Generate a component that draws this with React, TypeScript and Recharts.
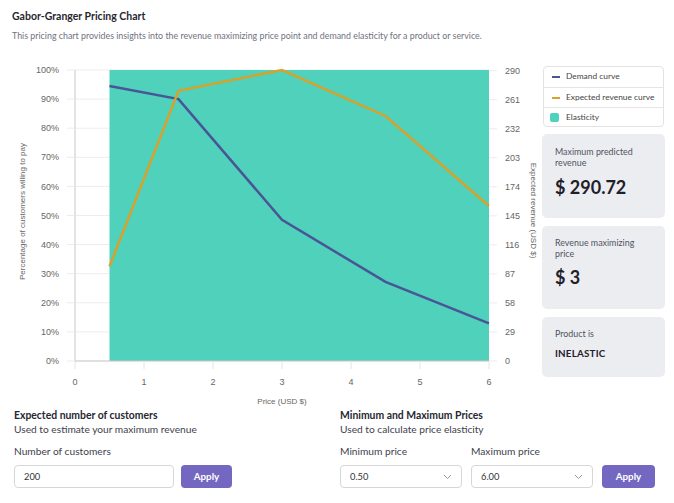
import React from 'react';
import { ComposedChart, Line, Area, XAxis, YAxis, CartesianGrid } from 'recharts';

// price points tested (USD)
const prices = [0.5, 1.5, 3, 4.5, 6];
// share of customers willing to pay, in %
const demandPct = [94.5, 90.0, 48.5, 27.2, 12.9];
// expected revenue at each price (USD)
const revenue = [94.5, 270.0, 290.72, 244.8, 154.8];
// elasticity band spans the tested price range
const elasticityBand = [100, 100, 100, 100, 100];

const priceTicks = [0, 1, 2, 3, 4, 5, 6];
const percentTicks = [0, 10, 20, 30, 40, 50, 60, 70, 80, 90, 100];
const revenueTicks = [0, 29, 58, 87, 116, 145, 174, 203, 232, 261, 290];

const data = prices.map((p, i) => ({
  price: p,
  demand: demandPct[i],
  revenue: revenue[i],
  band: elasticityBand[i],
}));

const GREEN = '#4fd1bb';
const NAVY = '#4a5596';
const GOLD = '#d6a22c';
const PURPLE = '#7467c2';
const UI_FONT = 'Lato, "Noto Sans", sans-serif';
const TICK_FONT = '"Liberation Sans", Arial, sans-serif';

const tickStyle = { fontSize: 9, fill: '#666', fontFamily: TICK_FONT };
const titleStyle = { fontSize: 8, fill: '#666', fontFamily: TICK_FONT };

const LeftTitle = (props: any) => {
  const { x, y, height } = props.viewBox;
  const cx = x + 22;
  const cy = y + height / 2 - 4;
  return (
    <text x={cx} y={cy} transform={`rotate(-90 ${cx} ${cy})`} textAnchor="middle" dominantBaseline="central" style={titleStyle}>
      Percentage of customers willing to pay
    </text>
  );
};

const RightTitle = (props: any) => {
  const { x, y, height } = props.viewBox;
  const cx = x + 44;
  const cy = y + height / 2 - 5;
  return (
    <text x={cx} y={cy} transform={`rotate(90 ${cx} ${cy})`} textAnchor="middle" dominantBaseline="central" style={titleStyle}>
      Expected revenue (USD $)
    </text>
  );
};

const BottomTitle = (props: any) => {
  const { x, y, width } = props.viewBox;
  return (
    <text x={x + width / 2} y={y + 40} textAnchor="middle" dominantBaseline="central" style={titleStyle}>
      Price (USD $)
    </text>
  );
};

const card: React.CSSProperties = {
  position: 'absolute',
  left: 542,
  width: 123,
  background: '#ecedf1',
  borderRadius: 5,
  boxSizing: 'border-box',
  padding: '0 13px',
};

const smallGray: React.CSSProperties = { fontSize: 8.9, color: '#50535f', lineHeight: '11px' };
const subText: React.CSSProperties = { position: 'absolute', fontSize: 10.2, color: '#40424d' };
const headText: React.CSSProperties = { position: 'absolute', fontSize: 10.4, fontWeight: 700 };

const SelectBox = ({ left, value }: { left: number; value: string }) => (
  <div style={{
    position: 'absolute', left, top: 465, width: 122, height: 23, border: '1px solid #d6d6d9',
    borderRadius: 4, boxSizing: 'border-box', fontSize: 9.3, color: '#333', lineHeight: '21px', paddingLeft: 9,
  }}>
    {value}
    <svg width="9" height="6" style={{ position: 'absolute', right: 9, top: 8 }}>
      <polyline points="1,1 4.5,4.5 8,1" fill="none" stroke="#999" strokeWidth="1" />
    </svg>
  </div>
);

const ApplyButton = ({ left, width }: { left: number; width: number }) => (
  <div style={{
    position: 'absolute', left, top: 465, width, height: 23, background: PURPLE, borderRadius: 4,
    color: '#fff', fontWeight: 700, fontSize: 9.8, textAlign: 'center', lineHeight: '23px',
  }}>
    Apply
  </div>
);

export default function App() {
  return (
    <div style={{ position: 'absolute', left: 0, top: 0, width: 674, height: 503, background: '#fff', fontFamily: UI_FONT, color: '#262730', overflow: 'hidden' }}>
      <div style={{ position: 'absolute', left: 12, top: 10, fontSize: 10.5, fontWeight: 700 }}>Gabor-Granger Pricing Chart</div>
      <div style={{ position: 'absolute', left: 12, top: 30, fontSize: 8.85, color: '#6f7280', whiteSpace: 'nowrap' }}>
        This pricing chart provides insights into the revenue maximizing price point and demand elasticity for a product or service.
      </div>

      <div style={{ position: 'absolute', left: 0, top: 0 }}>
        <ComposedChart width={540} height={420} data={data} margin={{ top: 70, right: 0, bottom: 0, left: 0 }}>
          <CartesianGrid yAxisId="left" vertical={false} stroke="#ededed" />
          <XAxis
            dataKey="price"
            type="number"
            domain={[0, 6]}
            ticks={priceTicks}
            height={59}
            tickSize={8}
            tickMargin={10}
            tick={tickStyle}
            stroke="#c9c9c9"
            tickLine={{ stroke: '#e4e4e4' }}
            label={<BottomTitle />}
          />
          <YAxis
            yAxisId="left"
            width={75}
            domain={[0, 100]}
            ticks={percentTicks}
            tickFormatter={(v: number) => `${v}%`}
            tickSize={8}
            tickMargin={8}
            tick={tickStyle}
            stroke="#c9c9c9"
            tickLine={{ stroke: '#ececec' }}
            label={<LeftTitle />}
          />
          <YAxis
            yAxisId="right"
            orientation="right"
            width={51}
            domain={[0, 290.72]}
            ticks={revenueTicks}
            tickSize={8}
            tickMargin={8}
            tick={{ ...tickStyle, textAnchor: 'start' }}
            axisLine={false}
            tickLine={{ stroke: '#ececec' }}
            label={<RightTitle />}
          />
          <Area
            yAxisId="left"
            type="linear"
            dataKey="band"
            fill={GREEN}
            fillOpacity={1}
            stroke="none"
            activeDot={false}
            isAnimationActive={false}
          />
          <Line yAxisId="left" type="linear" dataKey="demand" stroke={NAVY} strokeWidth={2.5} dot={false} isAnimationActive={false} />
          <Line yAxisId="right" type="linear" dataKey="revenue" stroke={GOLD} strokeWidth={2.5} dot={false} isAnimationActive={false} />
        </ComposedChart>
      </div>

      {/* legend */}
      <div style={{ position: 'absolute', left: 543, top: 66, width: 121, height: 61, border: '1px solid #e3e3e6', borderRadius: 4, boxSizing: 'border-box', fontSize: 8.4, color: '#444' }}>
        {[
          { name: 'Demand curve', color: NAVY, kind: 'line' },
          { name: 'Expected revenue curve', color: GOLD, kind: 'line' },
          { name: 'Elasticity', color: GREEN, kind: 'box' },
        ].map((it, i) => (
          <div key={it.name} style={{ position: 'relative', height: 20, lineHeight: '19px', paddingLeft: 22, borderTop: i ? '1px solid #e6e6e9' : 'none', boxSizing: 'border-box' }}>
            {it.kind === 'line' ? (
              <span style={{ position: 'absolute', left: 8, top: 9, width: 8, height: 1.5, background: it.color }} />
            ) : (
              <span style={{ position: 'absolute', left: 6, top: 5, width: 9, height: 9, borderRadius: 2, background: it.color }} />
            )}
            {it.name}
          </div>
        ))}
      </div>

      {/* stat cards */}
      <div style={{ ...card, top: 134, height: 84, paddingTop: 12 }}>
        <div style={smallGray}>Maximum predicted<br />revenue</div>
        <div style={{ fontSize: 18, fontWeight: 700, marginTop: 8, color: '#1f2029' }}>$ 290.72</div>
      </div>
      <div style={{ ...card, top: 226, height: 83, paddingTop: 11 }}>
        <div style={smallGray}>Revenue maximizing<br />price</div>
        <div style={{ fontSize: 18, fontWeight: 700, marginTop: 7, color: '#1f2029' }}>$ 3</div>
      </div>
      <div style={{ ...card, top: 317, height: 60, paddingTop: 11 }}>
        <div style={smallGray}>Product is</div>
        <div style={{ fontSize: 9.8, fontWeight: 700, marginTop: 8, color: '#1f2029', letterSpacing: 0.2 }}>INELASTIC</div>
      </div>

      {/* bottom controls */}
      <div style={{ ...headText, left: 14, top: 409 }}>Expected number of customers</div>
      <div style={{ ...subText, left: 14, top: 423 }}>Used to estimate your maximum revenue</div>
      <div style={{ ...subText, left: 14, top: 445 }}>Number of customers</div>
      <div style={{
        position: 'absolute', left: 14, top: 465, width: 160, height: 23, border: '1px solid #d6d6d9', borderRadius: 4,
        boxSizing: 'border-box', fontSize: 9.3, color: '#333', lineHeight: '21px', paddingLeft: 9,
      }}>200</div>
      <ApplyButton left={181} width={51} />

      <div style={{ ...headText, left: 340, top: 409 }}>Minimum and Maximum Prices</div>
      <div style={{ ...subText, left: 340, top: 423 }}>Used to calculate price elasticity</div>
      <div style={{ ...subText, left: 340, top: 445 }}>Minimum price</div>
      <div style={{ ...subText, left: 471, top: 445 }}>Maximum price</div>
      <SelectBox left={340} value="0.50" />
      <SelectBox left={471} value="6.00" />
      <ApplyButton left={602} width={53} />
    </div>
  );
}
